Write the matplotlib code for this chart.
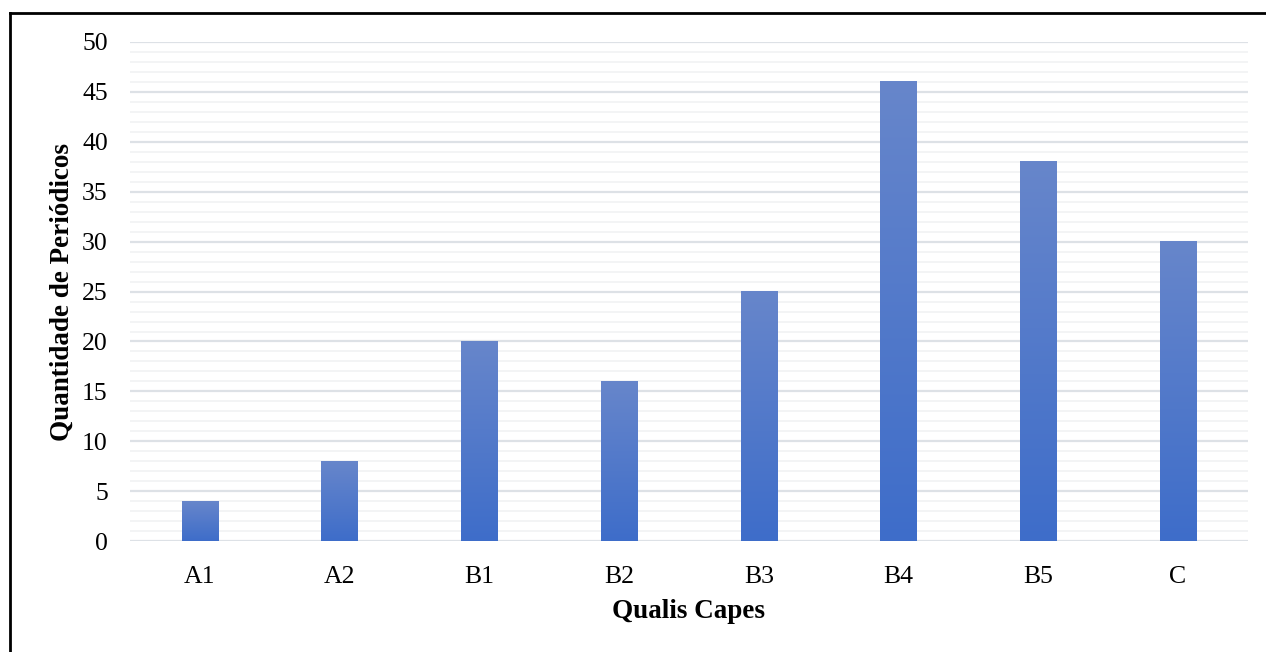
import numpy as np
import matplotlib.pyplot as plt
from matplotlib.colors import LinearSegmentedColormap
from matplotlib.lines import Line2D

plt.rcParams['font.family'] = ['Liberation Serif', 'DejaVu Serif']

categorias = ['A1', 'A2', 'B1', 'B2', 'B3', 'B4', 'B5', 'C']
quantidades = [4, 8, 20, 16, 25, 46, 38, 30]

fig = plt.figure(figsize=(12.66, 6.52), dpi=100)
ax = fig.add_axes([0.1027, 0.170, 0.883, 0.7656])

x = np.arange(len(categorias))
largura = 0.26
barras = ax.bar(x, quantidades, width=largura, color='none', zorder=3)

# degradê vertical em cada barra (claro em cima, mais escuro embaixo)
cmap = LinearSegmentedColormap.from_list('azul', ['#3E6DC9', '#6786CB'])
grad = np.linspace(0, 1, 256).reshape(-1, 1)
for b in barras:
    x0 = b.get_x()
    h = b.get_height()
    ax.imshow(grad, cmap=cmap, origin='lower', aspect='auto',
              extent=[x0, x0 + b.get_width(), 0, h], zorder=3)

ax.set_xlim(-0.5, len(categorias) - 0.5)
ax.set_ylim(0, 50)
ax.set_yticks(range(0, 51, 5))
ax.set_yticks(range(0, 51, 1), minor=True)
ax.set_xticks(x)
ax.set_xticklabels(categorias)

ax.grid(True, axis='y', which='major', color='#DDE1E6', linewidth=1.6, zorder=0)
ax.grid(True, axis='y', which='minor', color='#F1F2F4', linewidth=1.2, zorder=0)
for s in ax.spines.values():
    s.set_visible(False)
ax.tick_params(axis='both', which='both', length=0, labelsize=18.5)
ax.tick_params(axis='y', pad=16)
ax.tick_params(axis='x', pad=18)

ax.set_xlabel('Qualis Capes', fontsize=19.5, fontweight='bold', labelpad=8)
ax.set_ylabel('Quantidade de Periódicos', fontsize=19.5, fontweight='bold', labelpad=5)

# moldura (apenas topo e lado esquerdo)
fig.add_artist(Line2D([10 / 1266, 1], [1 - 13 / 652, 1 - 13 / 652],
                      transform=fig.transFigure, color='black', linewidth=2))
fig.add_artist(Line2D([10 / 1266, 10 / 1266], [0, 1 - 13 / 652],
                      transform=fig.transFigure, color='black', linewidth=2))

fig.savefig('out.png', dpi=100)
